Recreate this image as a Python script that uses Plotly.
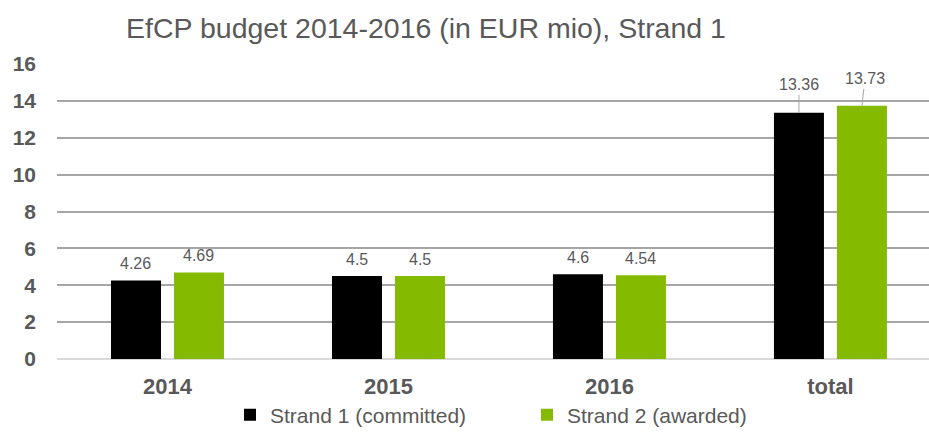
import plotly.graph_objects as go

categories = ["2014", "2015", "2016", "total"]
strand1 = [4.26, 4.5, 4.6, 13.36]
strand2 = [4.69, 4.5, 4.54, 13.73]
series_names = ["Strand 1 (committed)", "Strand 2 (awarded)"]
y_ticks = [0, 2, 4, 6, 8, 10, 12, 14, 16]

FONT = "Liberation Sans, Arial, sans-serif"
GRAY = "#595959"
BLACK = "#000000"
GREEN = "#84bb00"

fig = go.Figure()
fig.add_trace(go.Bar(x=categories, y=strand1, name=series_names[0],
                     marker=dict(color=BLACK, line=dict(width=0))))
fig.add_trace(go.Bar(x=categories, y=strand2, name=series_names[1],
                     marker=dict(color=GREEN, line=dict(width=0))))

annotations = []
for series, shift in ((strand1, -31.5), (strand2, 31.5)):
    for i, (cat, v) in enumerate(zip(categories, series)):
        txt = f"{v:g}"
        if cat == "total":
            annotations.append(dict(
                x=i, y=v, xref="x", yref="y", xshift=shift, text=txt,
                showarrow=True, arrowhead=0, arrowwidth=1, arrowcolor="#a6a6a6",
                ax=0 if shift < 0 else 3, ay=-28 if shift < 0 else -27,
                font=dict(family=FONT, size=16, color=GRAY)))
        else:
            annotations.append(dict(
                x=i, y=v, xref="x", yref="y", xshift=shift, yshift=17,
                yanchor="middle", text=txt, showarrow=False,
                font=dict(family=FONT, size=16, color=GRAY)))

fig.update_layout(
    width=929, height=432,
    margin=dict(l=57, r=0, t=64, b=73, pad=0, autoexpand=False),
    paper_bgcolor="white", plot_bgcolor="white",
    barmode="group", bargap=0.43, bargroupgap=0.206,
    title=dict(text="EfCP budget 2014-2016 (in EUR mio), Strand 1",
               x=426 / 929, xanchor="center", xref="container",
               y=1 - 28 / 432, yanchor="middle", yref="container",
               font=dict(family=FONT, size=28.5, color=GRAY), automargin=False),
    xaxis=dict(type="category", range=[-0.5, 3.446], showgrid=False,
               showline=False, zeroline=False, ticks="", automargin=False,
               tickfont=dict(family=FONT, size=22, color=GRAY, weight="bold"),
               ticklabelstandoff=12),
    yaxis=dict(range=[0, 16], tickvals=y_ticks, showgrid=True, automargin=False,
               gridcolor="#a6a6a6", gridwidth=1.5, zeroline=True,
               zerolinecolor="#d9d9d9", zerolinewidth=1.5, showline=False,
               ticks="", ticklabelstandoff=20,
               tickfont=dict(family=FONT, size=21, color=GRAY, weight="bold")),
    legend=dict(orientation="h", x=230 / 929, xref="container", xanchor="left",
                y=1 - 415 / 432, yref="container", yanchor="middle",
                font=dict(family=FONT, size=21, color=GRAY),
                entrywidth=252, entrywidthmode="pixels", itemsizing="constant"),
    annotations=annotations,
    showlegend=True,
)

fig.write_html(
    "out.html",
    config={"displayModeBar": False},
    post_script="document.body.style.margin='0';"
                "document.documentElement.style.overflow='hidden';"
                "document.body.style.overflow='hidden';",
)
